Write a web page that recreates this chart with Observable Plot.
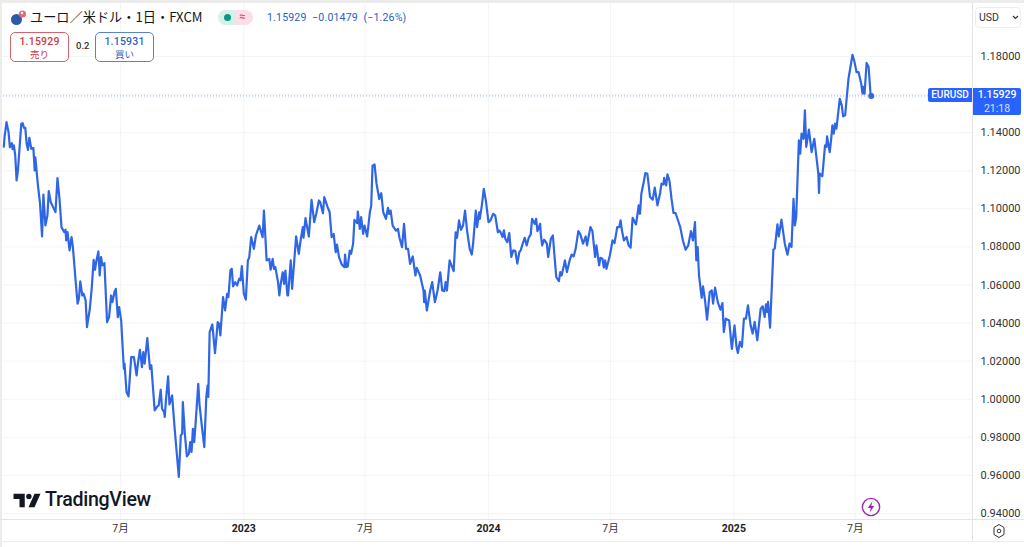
<!DOCTYPE html>
<html lang="ja">
<head>
<meta charset="utf-8">
<script src="https://cdn.jsdelivr.net/npm/d3@7"></script>
<script src="https://cdn.jsdelivr.net/npm/@observablehq/plot@0.6"></script>
<style>
  html, body { margin: 0; padding: 0; background: #fff; overflow: hidden; }
  #wrap { position: relative; width: 1024px; height: 547px; font-family: Roboto, "Noto Sans CJK JP", sans-serif; }
  #vis { position: absolute; left: 0; top: 0; }
  .abs { position: absolute; white-space: nowrap; }
  .box { position: absolute; box-sizing: border-box; border-radius: 5px; background: #fff; text-align: center; font-family: Roboto, "Noto Sans CJK JP", sans-serif; }
  .box b { display: block; font-size: 10.5px; font-weight: 500; line-height: 14px; margin-top: 2px; letter-spacing: .2px; }
  .box span { display: block; font-size: 9.5px; line-height: 12px; }
  .band { position: absolute; background: #ececec; }
</style>
</head>
<body>
<div id="wrap">
  <div id="vis"></div>

  <div class="band" style="left:0;top:0;width:1024px;height:3px"></div>
  <div class="band" style="left:0;top:0;width:2px;height:547px"></div>
  <div class="band" style="left:0;top:519px;width:1024px;height:1px;background:#e2e3e6"></div>
  <div class="band" style="left:0;top:541px;width:1024px;height:1px;background:#eeeeee"></div>
  <div class="band" style="left:972px;top:3px;width:1px;height:538px;background:#e2e3e6"></div>

  <svg class="abs" style="left:10px;top:9px" width="18" height="18" viewBox="0 0 18 18">
    <circle cx="6.5" cy="10.5" r="5.5" fill="#2b5aa8"/>
    <circle cx="12.5" cy="5" r="3.6" fill="#e46a78"/>
    <circle cx="12" cy="4" r="1.2" fill="#fff"/>
  </svg>
  <div class="abs" style="left:30px;top:8px;font:400 13.2px/18px 'Noto Sans CJK JP';color:#131722">ユーロ／米ドル・1日・FXCM</div>
  <div class="abs" style="left:218px;top:10px;width:18px;height:15px;background:#d9f0ea;border-radius:8px 0 0 8px"></div>
  <div class="abs" style="left:236px;top:10px;width:17px;height:15px;background:#fbdfe8;border-radius:0 8px 8px 0"></div>
  <div class="abs" style="left:224px;top:14px;width:7px;height:7px;border-radius:50%;background:#089981"></div>
  <div class="abs" style="left:239px;top:9px;font:700 11px/16px Roboto;color:#e0457b">≈</div>
  <div class="abs" style="left:267px;top:10px;font:400 10.6px/15px Roboto;color:#2962c8;letter-spacing:.15px">1.15929&nbsp;&nbsp;−0.01479&nbsp;&nbsp;(−1.26%)</div>

  <div class="box" style="left:10px;top:32px;width:59px;height:30px;border:1px solid #d9636a;color:#cf3a44"><b>1.15929</b><span>売り</span></div>
  <div class="abs" style="left:76px;top:39px;font:500 9.5px/14px Roboto;color:#333">0.2</div>
  <div class="box" style="left:95px;top:32px;width:59px;height:30px;border:1px solid #5b82cf;color:#2f62c4"><b>1.15931</b><span>買い</span></div>

  <div class="abs" style="left:975px;top:7px;width:46px;height:21px;box-sizing:border-box;border:1px solid #eceef1;border-radius:4px"></div>
  <div class="abs" style="left:979px;top:10px;font:400 10.5px/15px Roboto;color:#333">USD</div>
  <svg class="abs" style="left:1012px;top:15px" width="7" height="5" viewBox="0 0 7 5"><path d="M1 1l2.5 2.5L6 1" fill="none" stroke="#333" stroke-width="1.2"/></svg>

  <div class="abs" style="left:928px;top:88px;width:44px;height:14px;background:#2962ff;border-radius:2px 0 0 2px;color:#fff;font:500 10px/14px Roboto;text-align:center">EURUSD</div>
  <div class="abs" style="left:973px;top:88px;width:48px;height:27px;background:#2962ff;border-radius:0 2px 2px 0;color:#fff;font:500 10.5px/13.5px Roboto;text-align:center">1.15929<br><span style="font-weight:400;color:#d6e0ff">21:18</span></div>

  <svg class="abs" style="left:13px;top:493px" width="28" height="15" viewBox="0 0 36 20">
    <path d="M0 1h15v18H8V8H0z" fill="#131722"/><circle cx="20.5" cy="4.6" r="3.6" fill="#131722"/>
    <path d="M28 1h8l-8 18h-8z" fill="#131722"/>
  </svg>
  <div class="abs" style="left:45px;top:488px;font:500 19.6px/24px Roboto;color:#131722;letter-spacing:-.3px">TradingView</div>

  <svg class="abs" style="left:861px;top:497px" width="20" height="20" viewBox="0 0 20 20">
    <circle cx="10" cy="10" r="8.6" fill="none" stroke="#9c27b0" stroke-width="1.4"/>
    <path d="M11.3 4.6L6.8 11h3l-1.1 4.4L13.3 9h-3z" fill="#9c27b0"/>
  </svg>
  <svg class="abs" style="left:992px;top:523px" width="14" height="16" viewBox="0 0 14 16">
    <path d="M7 1.5l5 3v7l-5 3-5-3v-7z" fill="none" stroke="#333" stroke-width="1"/>
    <circle cx="7" cy="8" r="1.8" fill="none" stroke="#333" stroke-width="1"/>
  </svg>
</div>

<script>
// days since 2022-01-01
const days = [
  7,8,11,14,16,19,20,22,24,26,28,30,33,35,37,39,41,43,45,48,
  51,53,54,56,58,61,64,66,69,72,74,77,81,84,87,90,93,97,99,100,
  102,105,108,110,114,117,119,121,124,126,129,131,134,135,138,141,143,145,148,150,
  152,154,157,161,164,167,169,172,174,177,179,182,186,187,190,193,197,201,205,207,
  210,213,215,217,221,225,227,232,236,238,241,243,246,247,249,252,254,258,262,268,
  271,273,274,277,280,283,285,287,289,291,293,297,299,302,306,309,311,312,314,318,
  322,326,328,330,334,337,340,342,345,347,349,352,355,358,360,362,365,368,
  371,373,376,380,383,388,393,395,399,403,405,408,410,412,416,418,420,423,425,427,
  430,431,435,437,443,447,450,453,454,457,459,462,466,470,473,477,479,483,485,490,
  493,496,499,502,504,507,511,515,516,518,520,523,525,528,530,534,535,538,540,543,
  545,549,553,555,557,560,563,567,570,573,577,580,582,584,587,592,595,597,601,604,
  607,610,613,617,621,623,628,633,634,635,638,643,646,650,654,658,661,664,666,668,
  672,678,681,683,686,689,692,695,698,702,705,707,711,713,716,717,720,723,726,730,
  733,737,740,744,746,
  748,751,753,755,758,761,764,767,770,773,776,778,781,784,787,790,793,795,799,801,
  803,807,808,810,813,817,819,823,826,829,831,835,837,839,842,844,847,851,854,857,
  860,864,867,871,875,877,882,885,889,891,895,897,900,902,904,906,911,915,918,922,
  925,927,929,932,936,939,942,945,950,952,954,956,958,962,964,967,971,975,978,982,
  986,988,991,992,995,997,1000,1003,1006,1009,1013,1016,1020,1024,1028,1032,1035,1038,1040,1042,
  1044,1048,1050,1053,1056,1060,1063,1065,1068,1072,1076,1079,1081,1084,1089,1093,1097,1100,1102,
  1105,1108,1111,1114,1117,1121,1124,1127,1131,1136,1139,1142,1144,1146,1147,1150,1155,1157,1161,1163,
  1167,1172,1176,1179,1182,1185,1187,1189,1193,1195,1197,1200,1202,1204,1208,1212,1216,1220,1222,1223,
  1224,1228,1232,1234,1235,1239,1241,1243,1245,1247,1249,1254,1257,1259,1262,1264,1267,1273,1276,1279,
  1282,1286,1288,1289,1291,1294,1297,1300,1301
]
const closes = [
  1.1327,1.1377,1.1455,1.1403,1.1324,1.1345,1.1314,1.1333,1.1280,1.1149,1.1201,1.1298,1.1447,1.1450,1.1425,1.1425,1.1341,1.1310,1.1373,1.1315,
  1.1320,1.1201,1.1271,1.1193,1.1118,1.1027,1.0855,1.1075,1.0913,1.0965,1.1093,1.1035,1.1005,1.0983,1.1161,1.1053,1.0904,1.0878,1.0890,1.0834,
  1.0878,1.0782,1.0852,1.0799,1.0624,1.0502,1.0528,1.0619,1.0545,1.0554,1.0519,1.0379,1.0449,1.0467,1.0580,1.0732,1.0680,1.0725,1.0776,1.0650,
  1.0747,1.0703,1.0715,1.0405,1.0431,1.0545,1.0510,1.0563,1.0580,1.0431,1.0484,1.0414,1.0160,1.0187,1.0038,1.0015,1.0221,1.0221,1.0125,1.0187,
  1.0260,1.0169,1.0248,1.0187,1.0321,1.0160,1.0178,0.9942,0.9963,0.9968,1.0050,0.9950,0.9933,0.9907,1.0003,1.0120,0.9973,1.0020,0.9837,0.9592,
  0.9810,0.9819,0.9985,0.9819,0.9700,0.9714,0.9775,0.9723,0.9845,0.9775,0.9871,1.0081,0.9968,0.9871,0.9749,1.0012,1.0073,1.0012,1.0353,1.0393,
  1.0242,1.0405,1.0397,1.0335,1.0537,1.0467,1.0554,1.0537,1.0677,1.0685,1.0593,1.0615,1.0598,1.0633,1.0624,1.0699,1.0554,1.0523,
  1.0729,1.0743,1.0851,1.0790,1.0860,1.0912,1.0851,1.0991,1.0729,1.0737,1.0680,1.0737,1.0685,1.0694,1.0615,1.0545,1.0606,1.0667,1.0606,1.0676,
  1.0545,1.0545,1.0729,1.0580,1.0855,1.0764,1.0842,1.0904,1.0848,1.0951,1.0912,1.0855,1.1047,1.0930,1.0974,1.1044,1.1035,1.0977,1.1061,1.1009,
  1.0982,1.0851,1.0868,1.0772,1.0812,1.0746,1.0708,1.0694,1.0760,1.0694,1.0697,1.0781,1.0764,1.0816,1.0942,1.0925,1.0986,1.0895,1.0956,1.0869,
  1.0912,1.0855,1.0982,1.1017,1.1227,1.1233,1.1131,1.1052,1.1082,1.0982,1.0947,1.1005,1.0973,1.0991,1.0912,1.0886,1.0895,1.0851,1.0799,1.0921,
  1.0790,1.0790,1.0711,1.0750,1.0650,1.0690,1.0650,1.0571,1.0510,1.0571,1.0466,1.0571,1.0615,1.0510,1.0571,1.0667,1.0571,1.0568,1.0615,1.0571,
  1.0729,1.0673,1.0877,1.0848,1.0939,1.0890,1.0912,1.0991,1.0886,1.0790,1.0760,1.0816,1.0991,1.0904,1.0982,1.0947,1.1017,1.1105,1.1044,1.0930,
  1.0939,1.0974,1.0965,1.0877,1.0886,
  1.0878,1.0852,1.0887,1.0843,1.0825,1.0873,1.0747,1.0782,1.0778,1.0712,1.0773,1.0782,1.0817,1.0848,1.0808,1.0848,1.0866,1.0948,1.0921,1.0948,
  1.0883,1.0921,1.0866,1.0808,1.0838,1.0817,1.0747,1.0843,1.0860,1.0729,1.0642,1.0620,1.0668,1.0650,1.0694,1.0729,1.0668,1.0729,1.0760,1.0750,
  1.0790,1.0883,1.0866,1.0817,1.0855,1.0808,1.0904,1.0883,1.0747,1.0808,1.0703,1.0743,1.0738,1.0691,1.0729,1.0685,1.0755,1.0834,1.0820,1.0904,
  1.0904,1.0939,1.0887,1.0834,1.0852,1.0808,1.0796,1.0953,1.0918,1.0965,1.1018,1.0974,1.1079,1.1149,1.1188,1.1184,1.1062,1.1048,1.1111,1.1018,
  1.1083,1.1132,1.1128,1.1163,1.1123,1.1181,1.1146,1.1053,1.0978,1.0978,1.0936,1.0904,1.0834,1.0785,1.0808,1.0883,1.0834,1.0930,1.0729,1.0799,
  1.0650,1.0533,1.0593,1.0519,1.0418,1.0563,1.0572,1.0502,1.0586,1.0510,1.0470,1.0505,1.0353,1.0423,1.0414,1.0265,1.0388,1.0274,1.0243,
  1.0301,1.0275,1.0423,1.0423,1.0493,1.0388,1.0345,1.0406,1.0310,1.0476,1.0488,1.0432,1.0499,1.0458,1.0511,1.0376,1.0787,1.0791,1.0918,1.0855,
  1.0943,1.0817,1.0759,1.0817,1.0800,1.1053,1.0913,1.0957,1.1360,1.1290,1.1395,1.1368,1.1517,1.1325,1.1416,1.1298,1.1368,1.1246,1.1185,1.1083,
  1.1185,1.1171,1.1333,1.1325,1.1381,1.1298,1.1360,1.1438,1.1395,1.1447,1.1421,1.1578,1.1543,1.1486,1.1491,1.1570,1.1683,1.1809,1.1771,1.1718,
  1.1718,1.1657,1.1605,1.1640,1.1605,1.1766,1.1745,1.1599,1.15929
]
const gridPrices = [1.18,1.16,1.14,1.12,1.10,1.08,1.06,1.04,1.02,1.00,0.98,0.96,0.94]
// 1.16 sits under the price tag, so it gets no label
const priceTicks = [1.18,1.14,1.12,1.10,1.08,1.06,1.04,1.02,1.00,0.98,0.96,0.94]
const monthTicks = ['2022-07-01','2023-07-01','2024-07-01','2025-07-01']
const yearTicks = ['2023-01-01','2024-01-01','2025-01-01']
const monthLabel = '7月'
const lastClose = 1.15929

const toDate = s => new Date(s + 'T00:00:00')
const start = new Date(2022, 0, 1)
const series = days.map((d, i) => ({date: d3.timeDay.offset(start, d), close: closes[i]}))
const gridDates = [...monthTicks, ...yearTicks].map(toDate)

let chart = Plot.plot({
  width: 1024,
  height: 547,
  marginTop: 3,
  marginLeft: 0,
  marginRight: 52,
  marginBottom: 28,
  style: {background: 'transparent', fontFamily: 'Roboto, "Noto Sans CJK JP", sans-serif', fontSize: '11px', color: '#333'},
  x: {type: 'time', axis: null, domain: [d3.timeDay.offset(start, 2), d3.timeDay.offset(start, 1452)], range: [0, 972]},
  y: {type: 'linear', domain: [1.18, 0.94], range: [56, 513]},
  marks: [
    Plot.ruleY(gridPrices, {stroke: '#f3f4f6'}),
    Plot.ruleX(gridDates, {stroke: '#f3f4f6'}),
    Plot.ruleY([lastClose], {stroke: '#2962ff', strokeOpacity: 0.55, strokeDasharray: '1 2'}),
    Plot.line(series, {x: 'date', y: 'close', stroke: '#2f66e6', strokeWidth: 2.2, strokeLinejoin: 'round'}),
    Plot.dot(series.slice(-1), {x: 'date', y: 'close', r: 3, fill: '#2f66e6'}),
    Plot.axisY(priceTicks, {anchor: 'right', label: null, tickSize: 0, tickPadding: 8, tickFormat: d3.format('.5f'), fontSize: 11}),
    Plot.text(monthTicks.map(toDate), {x: d => d, text: () => monthLabel, frameAnchor: 'bottom', dy: 12, fill: '#333', fontSize: 10.5}),
    Plot.text(yearTicks.map(toDate), {x: d => d, text: d => String(d.getFullYear()), frameAnchor: 'bottom', dy: 12, fill: '#222', fontSize: 10.5, fontWeight: 700})
  ]
})
d3.select('#vis').append(() => chart)
</script>
</body>
</html>
